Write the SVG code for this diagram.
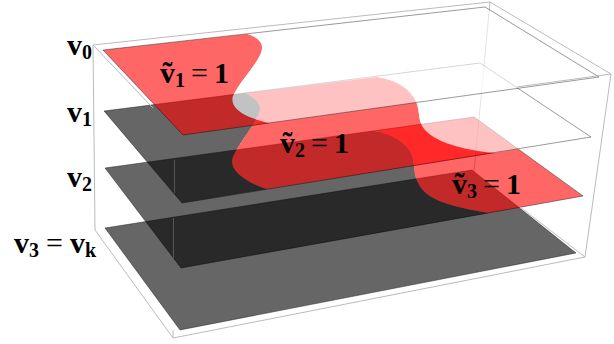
<svg xmlns="http://www.w3.org/2000/svg" width="614" height="344" viewBox="0 0 614 344">
<style>
.g{fill:#000;fill-opacity:.6}
.r{fill:#f00;fill-opacity:.6}
.w{fill:#fff;fill-opacity:.6}
.e{fill:none;stroke:#000;stroke-opacity:.5;stroke-width:.8}
.b{fill:none;stroke:#bbb;stroke-width:1}
text{font-family:"Liberation Serif","Times New Roman",serif;font-weight:bold;fill:#000;font-size:30px}
.s{font-size:20px}
.n{font-weight:normal}
</style>
<rect width="614" height="344" fill="#fff"/>
<g id="box-back">
<path class="b" d="M95,230L173,338L585,257M490,2L474,172"/>
</g>
<g id="plane-v3">
<path class="g" d="M105,228L472,170L576,253L180,330Z"/>
<path class="e" d="M105,228L472,170L576,253L180,330Z"/>
</g>
<g id="plane-v2">
<path class="g" d="M373,131C392,133 407,143 412,155C416,166 411,180 427,194C440,204 465,209 489,213L181,268L105,168Z"/>
<path class="r" d="M373,131C392,133 407,143 412,155C416,166 411,180 427,194C440,204 465,209 489,213L583,196L474,117Z"/>
<path class="e" d="M105,168L474,117L583,196L181,268Z"/>
</g>
<g id="plane-v1">
<path class="g" d="M245,93C255,98 261,103 260,110C258,122 240,140 233,157C228,170 245,182 267,189L182,203L104,111Z"/>
<path class="r" d="M245,93C255,98 261,103 260,110C258,122 240,140 233,157C228,170 245,182 267,189L495,153C470,151 438,144 425,130C418,122 420,114 417,104C412,90 398,80 377,77Z"/>
<path class="w" d="M377,77C398,80 412,90 417,104C420,114 418,122 425,130C438,144 470,151 495,153L591,137L480,63Z"/>
<path class="e" d="M104,111L480,63L591,137L182,203Z"/>
</g>
<g id="plane-v0">
<path class="r" d="M247,34C258,37 263,43 262,49C260,62 240,80 233,96C229,108 245,118 270,123L183,135L103,50Z"/>
<path class="w" d="M247,34C258,37 263,43 262,49C260,62 240,80 233,96C229,108 245,118 270,123L599,77L485,7Z"/>
<path class="e" d="M103,50L485,7L599,77L183,135Z"/>
</g>
<g id="box-front">
<path class="b" d="M95,230L93,45L490,2L611,74L585,257"/>
<path class="b" d="M93,45L153,108M611,74L517,87M173,330L173,338M520,207L585,257"/>
<path d="M174.5,160L174.5,193M173.5,218L173.5,258" fill="none" stroke="#555" stroke-width="1"/>
</g>
<g id="labels">
<text x="67" y="55">v<tspan class="s" dy="4">0</tspan></text>
<text x="67" y="122">v<tspan class="s" dy="4">1</tspan></text>
<text x="67" y="187">v<tspan class="s" dy="4">2</tspan></text>
<text x="14" y="253">v<tspan class="s" dy="4">3</tspan><tspan class="n" dy="-4" dx="7">=</tspan><tspan dx="7">v</tspan><tspan class="s" dy="4">k</tspan></text>
<text x="160" y="83">ṽ<tspan class="s" dy="4">1</tspan><tspan class="n" dy="-4" dx="6">=</tspan><tspan dx="6">1</tspan></text>
<text x="280" y="153">ṽ<tspan class="s" dy="4">2</tspan><tspan class="n" dy="-4" dx="6">=</tspan><tspan dx="6">1</tspan></text>
<text x="452" y="194">ṽ<tspan class="s" dy="4">3</tspan><tspan class="n" dy="-4" dx="6">=</tspan><tspan dx="6">1</tspan></text>
</g>
</svg>
